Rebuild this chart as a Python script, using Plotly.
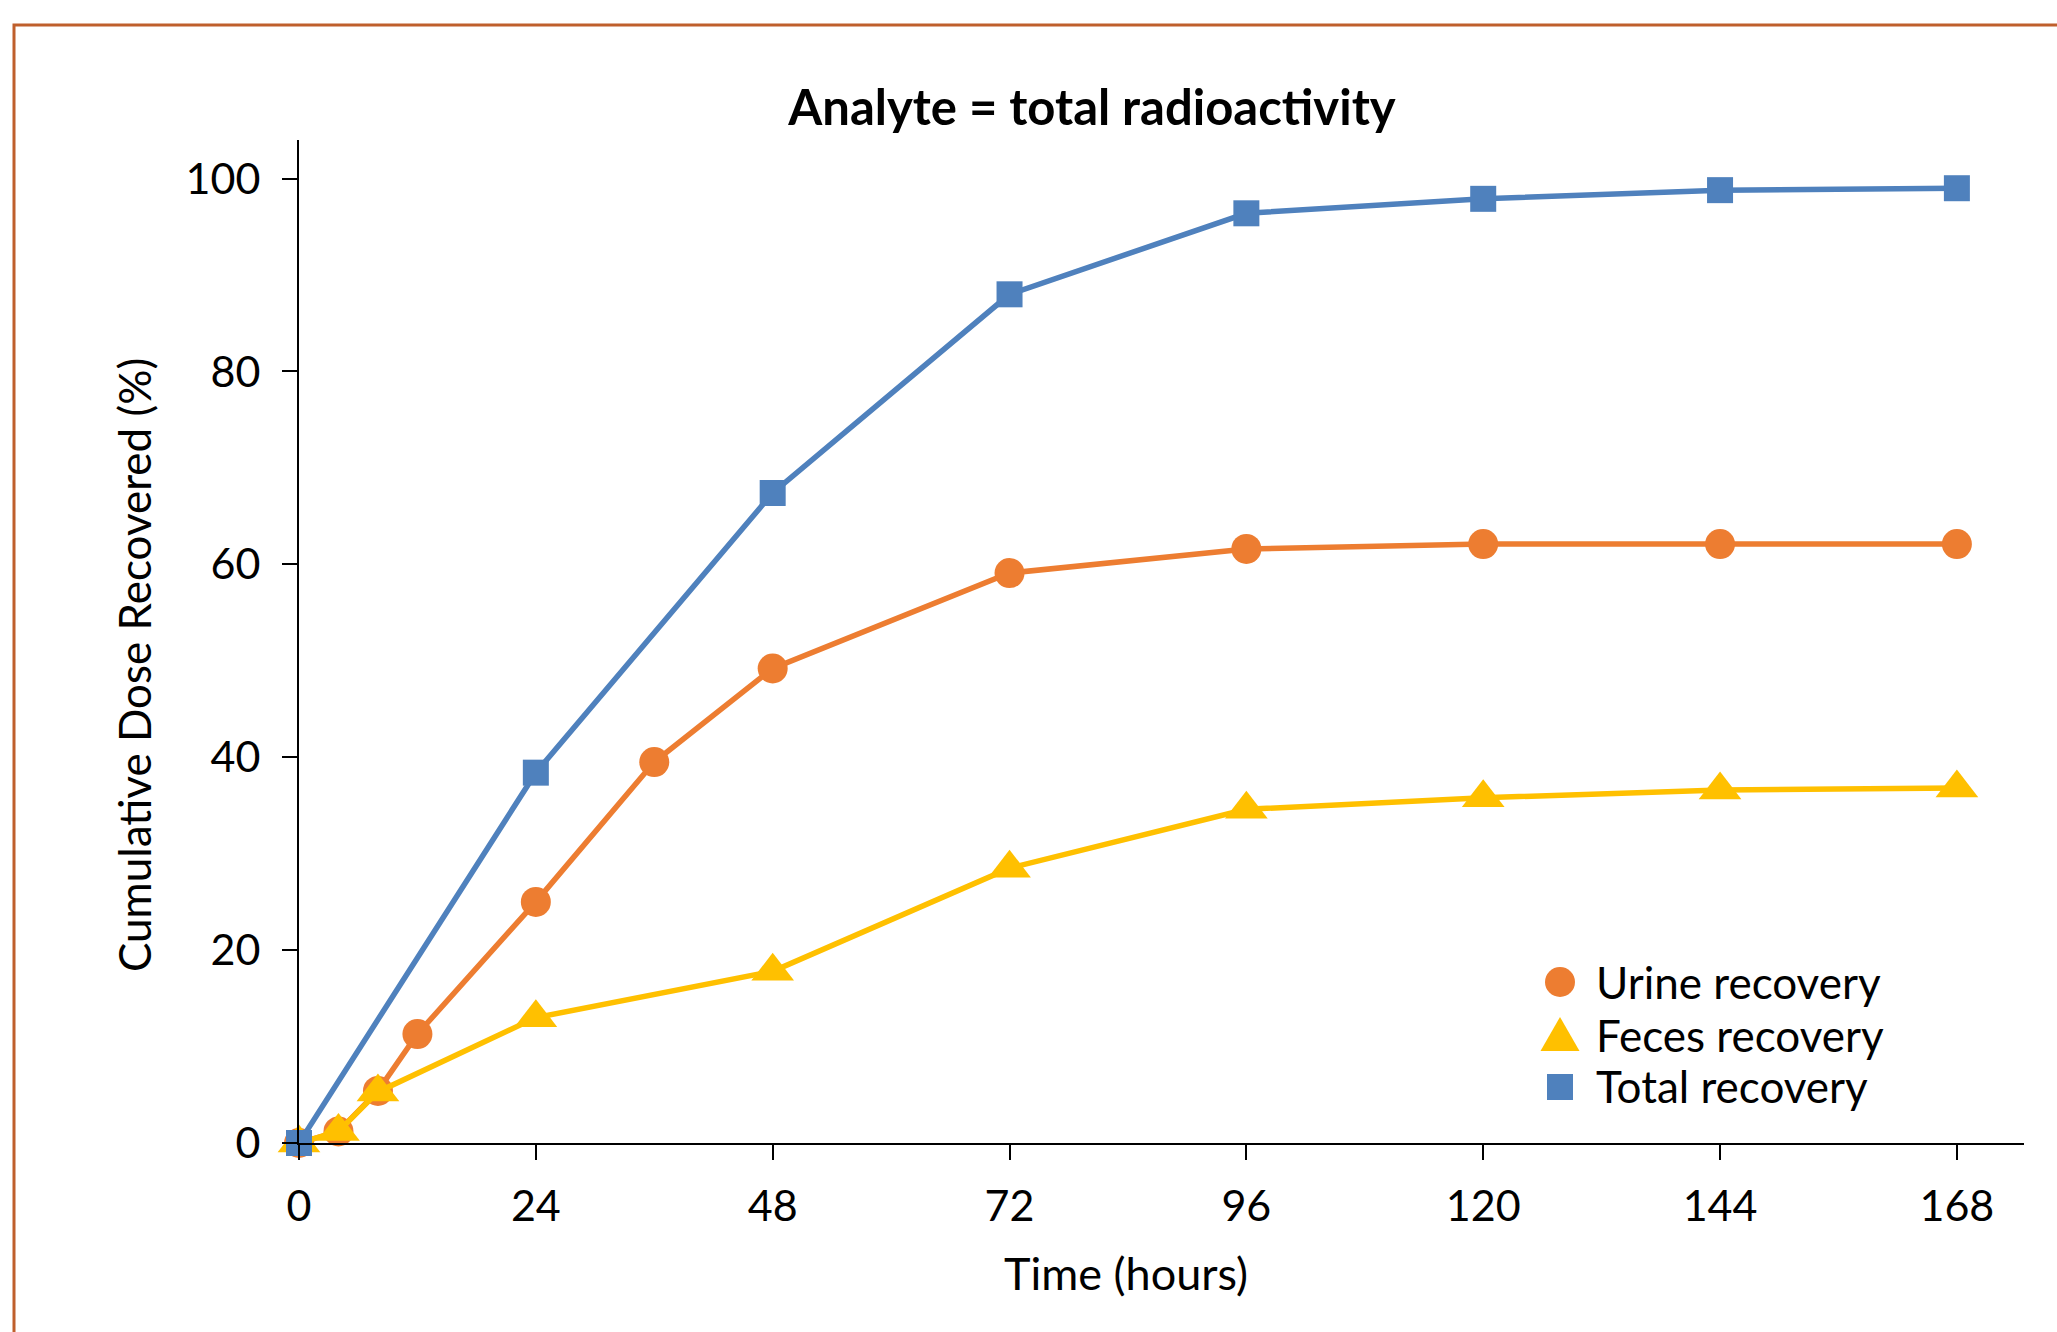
import plotly.graph_objects as go

# ---- data ----
t_urine = [0, 4, 8, 12, 24, 36, 48, 72, 96, 120, 144, 168]
urine = [0, 1.2, 5.4, 11.3, 25.0, 39.5, 49.2, 59.1, 61.6, 62.1, 62.1, 62.1]
t_feces = [0, 4, 8, 24, 48, 72, 96, 120, 144, 168]
feces = [0, 1.2, 5.3, 13.0, 17.8, 28.5, 34.6, 35.8, 36.6, 36.8]
t_total = [0, 24, 48, 72, 96, 120, 144, 168]
total = [0, 38.4, 67.4, 88.0, 96.4, 97.9, 98.8, 99.0]
x_ticks = [0, 24, 48, 72, 96, 120, 144, 168]
y_ticks = [0, 20, 40, 60, 80, 100]
series_names = ["Urine recovery", "Feces recovery", "Total recovery"]

ORANGE = "#ED7D31"
YELLOW = "#FFC000"
BLUE = "#4F81BD"
FONT = "Lato"

W, H = 2057, 1332
L, R, T, B = 299, 33, 140, 189
PW, PH = W - L - R, H - T - B


def px(x):
    return (x - L) / PW


def py(y):
    return (H - B - y) / PH


fig = go.Figure()
fig.add_trace(go.Scatter(x=t_urine, y=urine, mode="lines+markers", name=series_names[0],
                         line=dict(color=ORANGE, width=5.5),
                         marker=dict(symbol="circle", size=30, color=ORANGE),
                         cliponaxis=False, showlegend=False))
fig.add_trace(go.Scatter(x=t_feces, y=feces, mode="lines+markers", name=series_names[1],
                         line=dict(color=YELLOW, width=5.5),
                         marker=dict(symbol="triangle-up", size=37, color=YELLOW),
                         cliponaxis=False, showlegend=False))
fig.add_trace(go.Scatter(x=t_total, y=total, mode="lines+markers", name=series_names[2],
                         line=dict(color=BLUE, width=5.5),
                         marker=dict(symbol="square", size=26, color=BLUE),
                         cliponaxis=False, showlegend=False))

shapes = [
    # outer frame
    dict(type="rect", xref="paper", yref="paper", x0=px(14), x1=px(2100), y0=py(1400), y1=py(25),
         line=dict(color="#BF5F2C", width=3), fillcolor="rgba(0,0,0,0)", layer="below"),
    # legend symbols
    dict(type="circle", xref="paper", yref="paper", x0=px(1545), x1=px(1575), y0=py(997), y1=py(967),
         fillcolor=ORANGE, line=dict(width=0)),
    dict(type="path", xref="paper", yref="paper",
         path=f"M {px(1560)} {py(1017)} L {px(1579.5)} {py(1051)} L {px(1540.5)} {py(1051)} Z",
         fillcolor=YELLOW, line=dict(width=0)),
    dict(type="rect", xref="paper", yref="paper", x0=px(1547), x1=px(1573), y0=py(1100), y1=py(1074),
         fillcolor=BLUE, line=dict(width=0)),
]

annotations = []
for name, yc in zip(series_names, [981.5, 1034.5, 1085.5]):
    annotations.append(dict(text=name, xref="paper", yref="paper", x=px(1594), y=py(yc),
                            xanchor="left", yanchor="middle", showarrow=False,
                            font=dict(family=FONT, size=44, color="black")))

# axis titles
annotations.append(dict(text="Time (hours)", xref="paper", yref="paper", x=px(1126), y=py(1273),
                        xanchor="center", yanchor="middle", showarrow=False,
                        font=dict(family=FONT, size=45, color="black")))
annotations.append(dict(text="Cumulative Dose Recovered (%)", xref="paper", yref="paper",
                        x=px(134), y=py(665), textangle=-90,
                        xanchor="center", yanchor="middle", showarrow=False,
                        font=dict(family=FONT, size=44, color="black")))

axis_common = dict(showgrid=False, zeroline=False, showline=True, linecolor="black", linewidth=2,
                   ticks="outside", ticklen=15, tickwidth=2, tickcolor="black",
                   tickfont=dict(family=FONT, size=43, color="black"))

fig.update_layout(
    width=W, height=H,
    margin=dict(l=L, r=R, t=T, b=B, autoexpand=False),
    paper_bgcolor="white", plot_bgcolor="white",
    title=dict(text="Analyte = total radioactivity", x=1092 / W, xanchor="center",
               y=1 - 108 / H, yanchor="middle", yref="container",
               font=dict(family=FONT, size=49, color="black", weight="bold")),
    xaxis=dict(range=[0, 174.8], tickvals=x_ticks, ticklabelstandoff=9, **axis_common),
    yaxis=dict(range=[0, 104], tickvals=y_ticks, ticklabelstandoff=13, **axis_common),
    shapes=shapes,
    annotations=annotations,
    showlegend=False,
)

fig.write_html("out.html", config={"displayModeBar": False},
               post_script="document.body.style.margin='0';")
